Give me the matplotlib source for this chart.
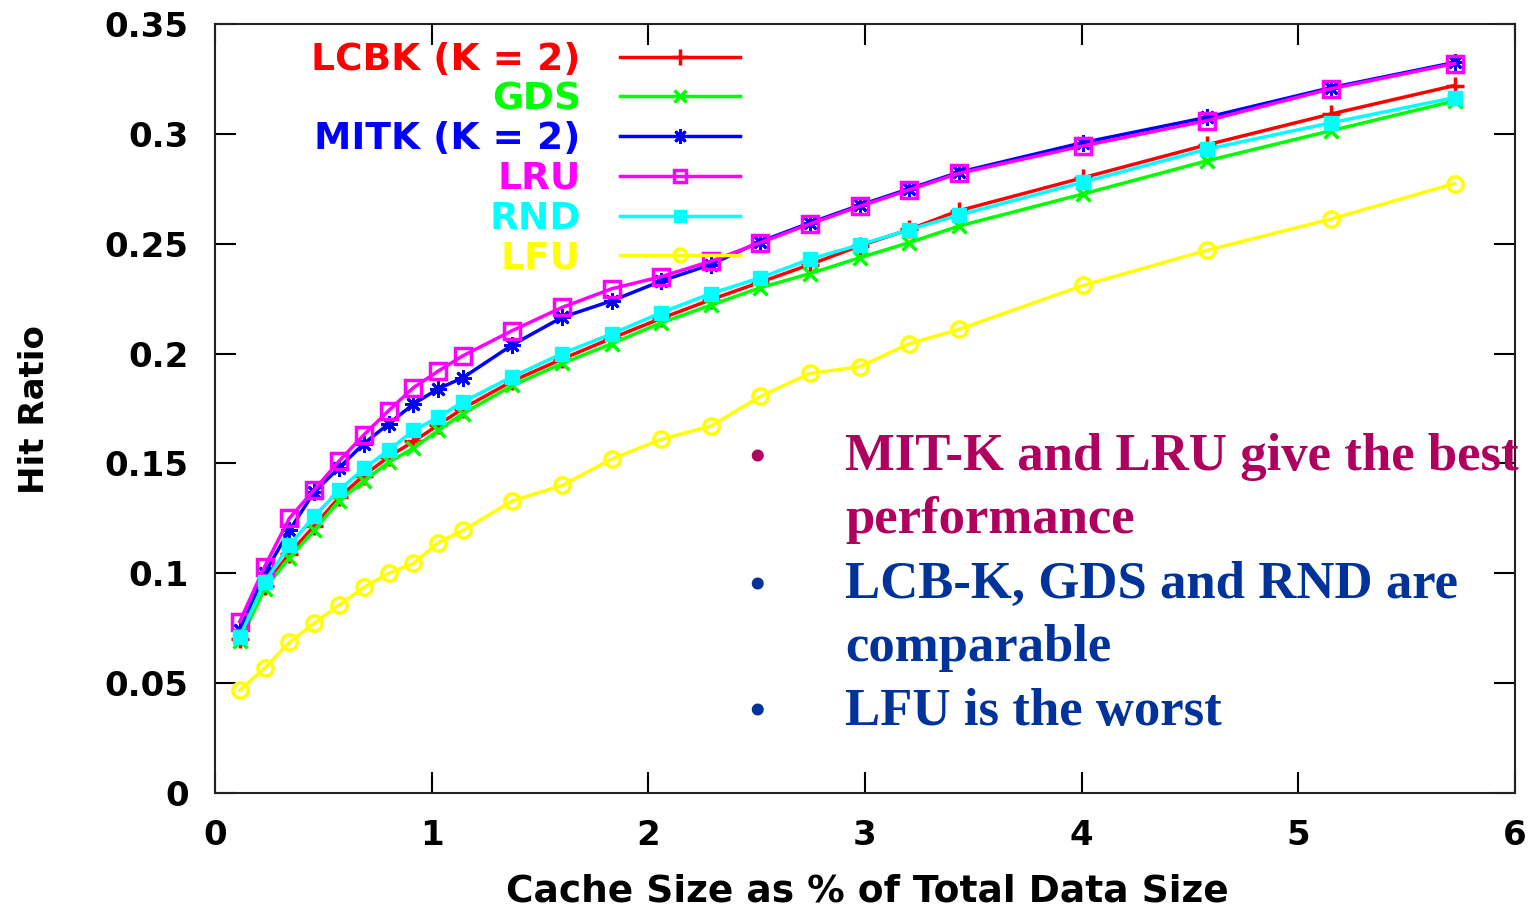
import matplotlib
matplotlib.use("Agg")
import matplotlib.pyplot as plt

# cache size (% of total data size)
x = [0.114, 0.229, 0.343, 0.458, 0.572, 0.687, 0.801, 0.916, 1.030, 1.144,
     1.373, 1.602, 1.831, 2.059, 2.288, 2.517, 2.746, 2.975, 3.204, 3.432,
     4.005, 4.577, 5.149, 5.721]

lcbk = [0.070, 0.094, 0.109, 0.1215, 0.1345, 0.1445, 0.153, 0.160, 0.1675, 0.175,
        0.1875, 0.1975, 0.207, 0.216, 0.2245, 0.2325, 0.2405, 0.249, 0.2565, 0.265,
        0.280, 0.295, 0.309, 0.322]
gds = [0.069, 0.093, 0.107, 0.1195, 0.133, 0.142, 0.1505, 0.157, 0.165, 0.1727,
       0.1855, 0.1955, 0.2045, 0.214, 0.222, 0.230, 0.2364, 0.2436, 0.2505, 0.258,
       0.2726, 0.2877, 0.3014, 0.315]
mitk = [0.074, 0.100, 0.1195, 0.137, 0.148, 0.159, 0.168, 0.177, 0.184, 0.189,
        0.204, 0.2165, 0.224, 0.233, 0.2405, 0.251, 0.2595, 0.2675, 0.275, 0.2825,
        0.296, 0.3075, 0.321, 0.3325]
lru = [0.078, 0.103, 0.125, 0.138, 0.151, 0.163, 0.174, 0.1845, 0.192, 0.199,
       0.2105, 0.221, 0.2295, 0.235, 0.242, 0.2505, 0.259, 0.267, 0.2745, 0.282,
       0.2945, 0.306, 0.3205, 0.332]
rnd = [0.071, 0.096, 0.1127, 0.126, 0.1377, 0.1477, 0.156, 0.165, 0.171, 0.178,
       0.1895, 0.200, 0.209, 0.2186, 0.2273, 0.2345, 0.243, 0.2495, 0.2564, 0.263,
       0.278, 0.293, 0.305, 0.3165]
lfu = [0.0468, 0.0568, 0.0686, 0.0773, 0.0855, 0.0936, 0.100, 0.1045, 0.114, 0.1195,
       0.133, 0.140, 0.152, 0.161, 0.167, 0.1805, 0.191, 0.194, 0.2045, 0.211,
       0.231, 0.247, 0.2612, 0.2774]

xticks = [0, 1, 2, 3, 4, 5, 6]
yticks = [0, 0.05, 0.1, 0.15, 0.2, 0.25, 0.3, 0.35]
ytick_labels = ["0", "0.05", "0.1", "0.15", "0.2", "0.25", "0.3", "0.35"]

notes = [("MIT-K and LRU give the best\nperformance", "#B0005F"),
         ("LCB-K, GDS and RND are\ncomparable", "#003399"),
         ("LFU is the worst", "#003399")]

plt.rcParams["font.family"] = "DejaVu Sans"
plt.rcParams["font.weight"] = "bold"

fig = plt.figure(figsize=(15.34, 9.14), dpi=100)
ax = fig.add_axes([215/1534, 1 - 793/914, 1300/1534, 769/914])

lw = 2.5
ax.plot(x, lcbk, color="#FF0000", lw=lw, marker="+", ms=13, mew=2.5, label="LCBK (K = 2)")
ax.plot(x, gds, color="#00FF00", lw=lw, marker="x", ms=10, mew=2.5, label="GDS")
ax.plot(x, mitk, color="#0000FF", lw=lw, marker=(8, 2, 0), ms=12, mew=2, label="MITK (K = 2)")
ax.plot(x, lru, color="#FF00FF", lw=lw, marker="s", ms=11, mew=2.5, mfc="none", label="LRU")
ax.plot(x, rnd, color="#00FFFF", lw=lw, marker="s", ms=10, label="RND")
ax.plot(x, lfu, color="#FFFF00", lw=lw, marker="o", ms=11, mew=2.5, mfc="none", label="LFU")

ax.set_xlim(0, 6)
ax.set_ylim(0, 0.35)
ax.set_xticks(xticks)
ax.set_yticks(yticks)
ax.set_yticklabels(ytick_labels)
ax.tick_params(direction="in", length=15, width=1.5, top=True, right=True,
               labelsize=24.5, pad=19)
for s in ax.spines.values():
    s.set_linewidth(1.5)
    s.set_color("#222222")

ax.set_xlabel("Cache Size as % of Total Data Size", fontsize=27, fontweight="bold")
ax.xaxis.set_label_coords(0.5015, -0.105)
fig.text(35/1534, 1 - 410/914, "Hit Ratio", rotation=90, ha="center", va="center",
         fontsize=24.5, fontweight="bold")

ax.legend(loc="upper right", bbox_to_anchor=(0.404, 0.977), markerfirst=False,
          frameon=False, prop={"size": 27, "weight": "bold"}, handlelength=3.2,
          handletextpad=1.05, labelspacing=0.1, borderpad=0, borderaxespad=0,
          labelcolor="linecolor", markerscale=0.85)

# bullet notes
ys = [1 - 470/914, 1 - 598/914, 1 - 725/914]
for (txt, col), yy in zip(notes, ys):
    fig.text(757/1534, yy, "\u2022", color=col, fontsize=32, ha="center", va="baseline",
             family="Liberation Serif", fontweight="bold")
    fig.text(845/1534, yy, txt.split("\n")[0], color=col, fontsize=38, ha="left",
             va="baseline", family="Liberation Serif", fontweight="bold")
    if "\n" in txt:
        fig.text(845/1534, yy - 63/914, txt.split("\n")[1], color=col, fontsize=38,
                 ha="left", va="baseline", family="Liberation Serif", fontweight="bold")

fig.savefig("out.png", dpi=100)
